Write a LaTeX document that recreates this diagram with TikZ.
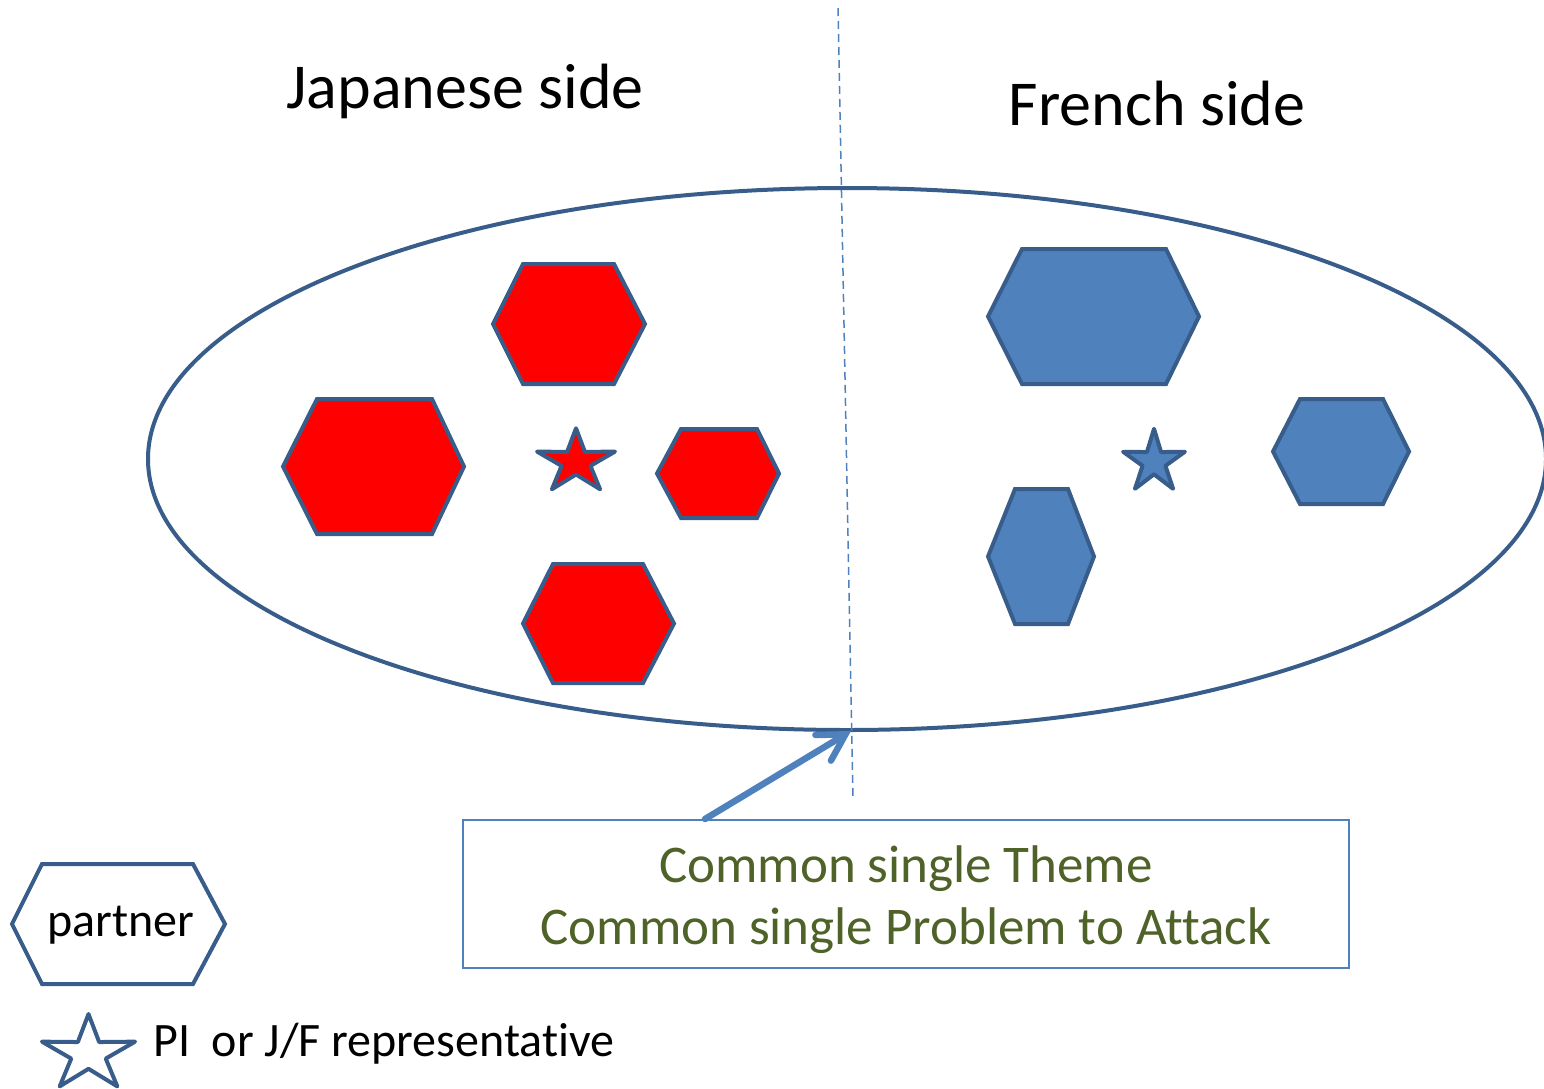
\documentclass[tikz,border=0pt]{standalone}
\usepackage{fontspec}
\setmainfont{Carlito}[Ligatures=NoCommon]
\usetikzlibrary{arrows.meta}
\definecolor{outl}{RGB}{56,93,138}
\definecolor{bfill}{RGB}{79,129,189}
\definecolor{rfill}{RGB}{255,0,0}
\definecolor{olivetext}{RGB}{79,98,40}
\newcommand\hexpath[6]{(#1,{(#5+#6)/2}) -- (#2,#5) -- (#3,#5) -- (#4,{(#5+#6)/2}) -- (#3,#6) -- (#2,#6) -- cycle}
\tikzset{
  redhex/.style={draw=outl, fill=rfill, line width=4pt},
  bluehex/.style={draw=outl, fill=bfill, line width=4pt},
  legendhex/.style={draw=outl, fill=white, line width=4pt},
  redstar/.style={draw=outl, fill=rfill, line width=4pt, line join=round},
  bluestar/.style={draw=outl, fill=bfill, line width=4pt, line join=round},
  legendstar/.style={draw=outl, fill=white, line width=4pt, line join=round},
  divider/.style={draw=bfill, line width=1.5pt, dash pattern=on 8pt off 5pt},
  ellstyle/.style={draw=outl, line width=4pt},
  themebox/.style={draw=bfill, line width=2pt, fill=white, minimum width=886pt, minimum height=148pt, inner sep=0pt},
  boxtext/.style={inner sep=0pt, align=center, text=olivetext, font=\fontsize{53}{62}\selectfont},
  pointer/.style={draw=bfill, line width=6.5pt, line cap=round, -{Straight Barb[length=26pt,width=30pt,line cap=round]}},
  title/.style={anchor=base, font=\fontsize{64}{70}\selectfont},
  legendtext/.style={font=\fontsize{48}{54}\selectfont}
}
\begin{document}
\begin{tikzpicture}[x=1pt,y=-1pt]
\useasboundingbox (0,0) rectangle (1544,1088);
% titles
\node[title] (jp) at (465,108) {Japanese side};
\node[title] (fr) at (1157,125) {French side};
% ellipse
\draw[ellstyle] (847,459) ellipse [x radius=699, y radius=271];
\coordinate (elltip) at (851,731);
% divider
\coordinate (dtop) at (838,8);
\coordinate (dbot) at (853,800);
\draw[divider] (dtop) -- (dbot);
% red hexagons
\draw[redhex] \hexpath{493}{523}{614}{645}{264}{384};
\draw[redhex] \hexpath{283}{317}{432}{464}{399}{534};
\draw[redhex] \hexpath{657}{681}{757}{779}{429}{518};
\draw[redhex] \hexpath{523}{553}{643}{674}{564}{683};
% blue hexagons
\draw[bluehex] \hexpath{988}{1022}{1166}{1199}{249}{384};
\draw[bluehex] \hexpath{1273}{1300}{1383}{1409}{399}{504};
\draw[bluehex] \hexpath{988}{1015}{1068}{1094}{489}{624};
% stars
\begin{scope}[shift={(576,462)}, x=41pt, y=33.7pt]
\draw[redstar] (90:1) -- (126:0.37) -- (162:1) -- (198:0.37) -- (234:1) -- (270:0.37) -- (306:1) -- (342:0.37) -- (18:1) -- (54:0.37) -- cycle;
\end{scope}
\begin{scope}[shift={(1154,462)}, x=32.5pt, y=33.2pt]
\draw[bluestar] (90:1) -- (126:0.37) -- (162:1) -- (198:0.37) -- (234:1) -- (270:0.37) -- (306:1) -- (342:0.37) -- (18:1) -- (54:0.37) -- cycle;
\end{scope}
% theme box
\node[themebox] (box) at (906,894) {};
\node[boxtext] (boxtext) at (906,900) {Common single Theme\\Common single Problem to Attack};
\coordinate (arrstart) at (705,819);
\draw[pointer] (arrstart) -- (elltip);
% legend
\draw[legendhex] \hexpath{12}{42}{193}{225}{864}{984};
\node[legendtext, anchor=base] (partner) at (121,936) {partner};
\begin{scope}[shift={(88.5,1054)}, x=49pt, y=40pt]
\draw[legendstar] (90:1) -- (126:0.37) -- (162:1) -- (198:0.37) -- (234:1) -- (270:0.37) -- (306:1) -- (342:0.37) -- (18:1) -- (54:0.37) -- cycle;
\end{scope}
\node[legendtext, anchor=base west, inner sep=0pt] (pi) at (153,1056) {PI\ \ or J/F representative};
\end{tikzpicture}
\end{document}
